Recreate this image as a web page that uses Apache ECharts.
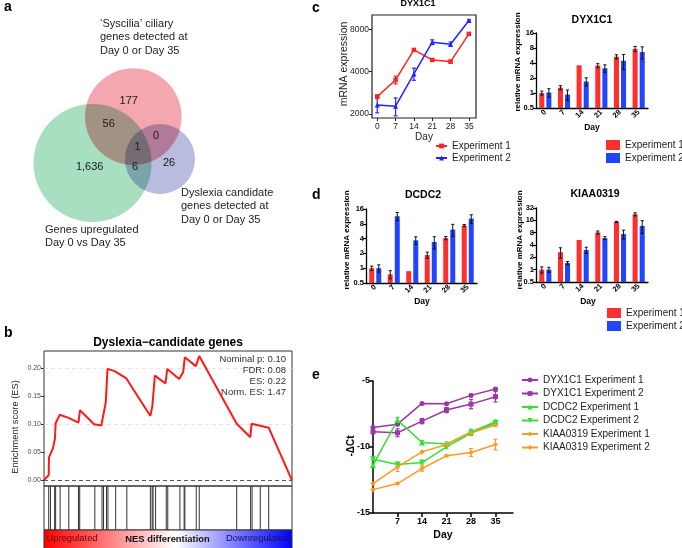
<!DOCTYPE html>
<html><head><meta charset="utf-8">
<script src="https://cdn.jsdelivr.net/npm/echarts@6.0.0/dist/echarts.min.js"></script>
<style>html,body{margin:0;padding:0;background:#fff}#chart{width:682px;height:548px}</style>
</head><body><div id="chart"></div>
<script>
// ================= DATA =================
// (a) Venn
const vennSetLabels = [
  ["\u2018Syscilia\u2019 ciliary", "genes detected at", "Day 0 or Day 35"],
  ["Genes upregulated", "Day 0 vs Day 35"],
  ["Dyslexia candidate", "genes detected at", "Day 0 or Day 35"]
];
const vennRegionNames = ["Syscilia only", "Upregulated only", "Dyslexia only", "Syscilia+Upregulated", "Syscilia+Dyslexia", "Upregulated+Dyslexia", "All three"];
const vennRegionCounts = [177, 1636, 26, 56, 0, 6, 1];

// (b) GSEA
const esRank  = [0,19,20,36,44,47,63,97,139,145,202,231,249,256,285,332,429,437,447,490,497,545,561,568,612,626,777,832,837,906,1000];
const esScore = [0,0.0095,0.041,0.057,0.074,0.102,0.117,0.112,0.103,0.125,0.100,0.098,0.139,0.199,0.195,0.182,0.115,0.133,0.187,0.173,0.199,0.181,0.193,0.220,0.204,0.222,0.101,0.077,0.101,0.094,0];
const hitRanks = [19,26,43,47,65,100,139,144,205,234,240,252,258,289,334,429,436,440,450,493,499,548,565,568,614,626,777,833,839,872,906];
const esTickValues = [0, 0.05, 0.10, 0.15, 0.20];
const gseaTitle = "Dyslexia\u2212candidate genes";
const gseaStats = ["Nominal p: 0.10", "FDR: 0.08", "ES: 0.22", "Norm. ES: 1.47"];

// (c) DYX1C1 mRNA (line)
const days = [0, 7, 14, 21, 28, 35];
const mrnaTicks = [2000, 4000, 8000];
const dyxMrnaExp1    = [2656, 3491, 5708, 4845, 4712, 7418];
const dyxMrnaExp1Err = [80, 220, 90, 80, 110, 90];
const dyxMrnaExp2    = [2318, 2272, 3852, 6476, 6268, 9228];
const dyxMrnaExp2Err = [280, 330, 380, 250, 220, 120];

// (c,d) relative mRNA expression (bars)
const dyxRelExp1    = [1.0, 1.28, 3.6, 3.55, 5.35, 7.7];
const dyxRelExp1Err = [0.09, 0.12, 0, 0.33, 0.5, 0.9];
const dyxRelExp2    = [1.02, 0.93, 1.7, 3.14, 4.45, 6.63];
const dyxRelExp2Err = [0.2, 0.22, 0.32, 0.53, 1.5, 1.8];
const dcdcRelExp1    = [1.0, 0.75, 0.87, 1.85, 4.1, 7.4];
const dcdcRelExp1Err = [0.1, 0.14, 0, 0.27, 0.3, 0.35];
const dcdcRelExp2    = [1.0, 11.4, 3.69, 3.41, 6.1, 10.2];
const dcdcRelExp2Err = [0.17, 2.2, 0.65, 0.95, 1.7, 2.0];
const kiaaRelExp1    = [1.0, 2.67, 5.3, 8.1, 14.7, 22.5];
const kiaaRelExp1Err = [0.17, 0.75, 0, 0.7, 0.4, 2.0];
const kiaaRelExp2    = [1.0, 1.45, 3.03, 5.9, 7.4, 11.7];
const kiaaRelExp2Err = [0.14, 0.13, 0.5, 0.5, 1.8, 4.0];

// (e) -dCt
const eTickDays = [7, 14, 21, 28, 35];
const dyxDctExp1  = [-8.52, -8.27, -6.70, -6.72, -6.09, -5.61];
const dyxDctExp1Err = [0.08, 0.1, 0.05, 0.05, 0.1, 0.1];
const dyxDctExp2  = [-8.85, -8.92, -8.04, -7.20, -6.75, -6.19];
const dyxDctExp2Err = [0.1, 0.3, 0.2, 0.2, 0.35, 0.4];
const dcdcDctExp1 = [-11.38, -7.96, -9.66, -9.78, -8.85, -8.09];
const dcdcDctExp1Err = [0.1, 0.2, 0.15, 0.15, 0.2, 0.1];
const dcdcDctExp2 = [-10.92, -11.33, -11.18, -9.99, -8.97, -8.16];
const dcdcDctExp2Err = [0.1, 0.15, 0.1, 0.1, 0.15, 0.1];
const kiaaDctExp1 = [-12.77, -11.51, -10.37, -9.81, -8.92, -8.34];
const kiaaDctExp1Err = [0.05, 0.35, 0.05, 0.1, 0.1, 0.1];
const kiaaDctExp2 = [-13.23, -12.77, -11.63, -10.67, -10.42, -9.81];
const kiaaDctExp2Err = [0.05, 0.05, 0.2, 0.05, 0.3, 0.4];

// ================= LAYOUT / STYLE =================
const FONT = 'Liberation Sans, Arial, Helvetica, sans-serif';
const vennCircles = [
  { cx: 92.5, cy: 163, r: 59, fill: [169, 223, 193] },     // upregulated (green)
  { cx: 133.3, cy: 116.6, r: 48.3, fill: [244, 167, 174] }, // syscilia (red)
  { cx: 160, cy: 159, r: 35, fill: [185, 187, 223] }        // dyslexia (blue)
];
const vennCountPos = [[128.7,101.3],[89.7,166.7],[169,163],[108.7,124],[156,136],[135,166.7],[137.5,147]];
const vennLabelPos = [[100, 24], [45, 230], [181, 193]];

const RED = '#ff2f2f', BLUE = '#1f45ff';
const LRED = '#ff2222', LBLUE = '#2323ff';
const PURPLE = '#9c35a8', GREEN = '#33e033', ORANGE = '#ff9a22';
const T = v => Math.log2(v);
const ident = v => v;
const fmtPow = v => { const x = Math.pow(2, v); return x < 1 ? String(+x.toFixed(2)) : String(Math.round(x)); };
const rgb = a => 'rgb(' + a.map(Math.round).join(',') + ')';
const mul = function () { const args = Array.from(arguments); return [0, 1, 2].map(k => args.reduce((acc, c) => acc * c[k] / 255, 255)); };

function txt(text, x, y, size, opts) {
  opts = opts || {};
  const font = (opts.bold ? 'bold ' : '') + size + 'px ' + FONT;
  const el = { type: 'text', x: x, y: y, silent: true, z: 50,
    style: { text: text, font: font, fill: opts.color || '#111',
      align: opts.align || 'center', verticalAlign: 'middle',
      textAlign: opts.align || 'center', textVerticalAlign: 'middle' } };
  if (opts.rotate) el.rotation = opts.rotate;
  return el;
}

function errorBars(tf, color, capHalf, lw, logScale) {
  return function (params, api) {
    const x = api.value(0), v = api.value(1), e = api.value(2);
    if (!e) return null;
    const lowV = logScale ? Math.max(v - e, 1e-6) : v - e;
    const hi = api.coord([x, tf(v + e)]);
    const lo = api.coord([x, tf(lowV)]);
    const st = { stroke: color, lineWidth: lw };
    return { type: 'group', children: [
      { type: 'line', shape: { x1: hi[0], y1: hi[1], x2: lo[0], y2: lo[1] }, style: st },
      { type: 'line', shape: { x1: hi[0] - capHalf, y1: hi[1], x2: hi[0] + capHalf, y2: hi[1] }, style: st },
      { type: 'line', shape: { x1: lo[0] - capHalf, y1: lo[1], x2: lo[0] + capHalf, y2: lo[1] }, style: st }
    ]};
  };
}

function groupedBars(sign, color, yMin) {
  return function (params, api) {
    const i = api.value(0), v = api.value(1), e = api.value(2);
    const band = api.size([1, 0])[0];
    const off = sign * band * 0.19, w = band * 0.27;
    const top = api.coord([i, T(v)]);
    const base = api.coord([i, yMin]);
    const cx = top[0] + off;
    const children = [{ type: 'rect', shape: { x: cx - w / 2, y: top[1], width: w, height: base[1] - top[1] }, style: { fill: color } }];
    if (e > 0) {
      const hi = api.coord([i, T(v + e)])[1], lo = api.coord([i, T(Math.max(v - e, 0.01))])[1];
      const st = { stroke: '#111', lineWidth: 1 };
      children.push({ type: 'line', shape: { x1: cx, y1: hi, x2: cx, y2: lo }, style: st });
      children.push({ type: 'line', shape: { x1: cx - 1.6, y1: hi, x2: cx + 1.6, y2: hi }, style: st });
      children.push({ type: 'line', shape: { x1: cx - 1.6, y1: lo, x2: cx + 1.6, y2: lo }, style: st });
    }
    return { type: 'group', children: children };
  };
}

const barX = g => ({ gridIndex: g, type: 'category', data: days.map(String), boundaryGap: true,
  axisLine: { onZero: false, lineStyle: { color: '#000', width: 1.3 } }, axisTick: { show: false },
  axisLabel: { rotate: 45, fontSize: 7.5, fontWeight: 'bold', color: '#000', margin: 3, interval: 0, fontFamily: FONT } });
const barY = (g, maxExp) => ({ gridIndex: g, type: 'value', min: -1, max: maxExp, interval: 1,
  axisLine: { show: true, onZero: false, lineStyle: { color: '#000', width: 1.3 } },
  axisTick: { show: true, length: 3, lineStyle: { color: '#000', width: 1.2 } },
  axisLabel: { formatter: fmtPow, fontSize: 7.5, fontWeight: 'bold', color: '#000', margin: 2, fontFamily: FONT },
  splitLine: { show: false } });

function barSeries(name, g, vals, errs, sign, color) {
  return { type: 'custom', name: name, xAxisIndex: g, yAxisIndex: g, itemStyle: { color: color },
    data: vals.map((v, i) => [i, v, errs[i]]), renderItem: groupedBars(sign, color, -1), z: 3 };
}
function lineSeries(name, g, vals, tf, color, symbol, size, extra) {
  return Object.assign({ type: 'line', name: name, xAxisIndex: g, yAxisIndex: g,
    data: days.map((d, i) => [d, tf(vals[i])]), symbol: symbol, symbolSize: size,
    color: color, lineStyle: { color: color, width: 1.5 }, itemStyle: { color: color }, z: 4 }, extra || {});
}
function errSeries(g, vals, errs, tf, color, cap, logScale) {
  return { type: 'custom', xAxisIndex: g, yAxisIndex: g, silent: true, z: 3,
    data: days.map((d, i) => [d, vals[i], errs[i]]), renderItem: errorBars(tf, color, cap, 1.2, logScale) };
}

// ================= TEXT =================
const graphics = [];
[['a', 4, 7], ['b', 4, 333], ['c', 312, 8], ['d', 312, 195], ['e', 312, 375]].forEach(p => graphics.push(txt(p[0], p[1], p[2], 14, { bold: true, align: 'left', color: '#000' })));
vennSetLabels.forEach((lines, k) => lines.forEach((l, j) => graphics.push(txt(l, vennLabelPos[k][0], vennLabelPos[k][1] + j * 13.3, 11, { align: 'left', color: '#222' }))));
graphics.push(txt(gseaTitle, 168, 343, 12, { bold: true, color: '#000' }));
graphics.push(txt('Enrichment score (ES)', 15, 427, 9.3, { rotate: Math.PI / 2, color: '#222' }));
gseaStats.forEach((s, j) => graphics.push(txt(s, 286, 359 + j * 11, 9.5, { align: 'right', color: '#333' })));
graphics.push({ type: 'rect', shape: { x: 44, y: 530, width: 248, height: 19 }, silent: true, z: 10,
  style: { fill: new echarts.graphic.LinearGradient(0, 0, 1, 0, [
    { offset: 0, color: '#ff0000' }, { offset: 0.53, color: '#ffffff' }, { offset: 1, color: '#0000ff' }]), stroke: '#333', lineWidth: 1 } });
graphics.push(txt('Upregulated', 46.5, 538.5, 9.4, { align: 'left', color: '#6a0000' }));
graphics.push(txt('NES differentiation', 167.5, 539, 9.4, { bold: true, color: '#111' }));
graphics.push(txt('Downregulated', 289, 538.5, 9.4, { align: 'right', color: '#10105a' }));
graphics.push(txt('DYX1C1', 418, 4, 9, { bold: true, color: '#000' }));
graphics.push(txt('mRNA expression', 344, 64, 10.5, { rotate: Math.PI / 2, color: '#222' }));
graphics.push(txt('Day', 424, 137, 10, { color: '#222' }));
graphics.push(txt('DYX1C1', 592, 20, 10.5, { bold: true, color: '#000' }));
graphics.push(txt('relative mRNA expression', 518, 62, 8, { bold: true, rotate: Math.PI / 2, color: '#000' }));
graphics.push(txt('Day', 592, 128, 8.5, { bold: true, color: '#000' }));
graphics.push(txt('DCDC2', 423, 195, 10.5, { bold: true, color: '#000' }));
graphics.push(txt('relative mRNA expression', 347, 240, 8, { bold: true, rotate: Math.PI / 2, color: '#000' }));
graphics.push(txt('Day', 422, 302, 8.5, { bold: true, color: '#000' }));
graphics.push(txt('KIAA0319', 595, 194, 10.5, { bold: true, color: '#000' }));
graphics.push(txt('relative mRNA expression', 520, 240, 8, { bold: true, rotate: Math.PI / 2, color: '#000' }));
graphics.push(txt('Day', 588, 302, 8.5, { bold: true, color: '#000' }));
graphics.push(txt('-\u0394Ct', 351, 446, 10, { bold: true, rotate: Math.PI / 2, color: '#000' }));
graphics.push(txt('Day', 443, 535, 10.5, { bold: true, color: '#000' }));

const nameFmt = n => n.indexOf('|') >= 0 ? n.split('|')[1] : n;

// ================= OPTION =================
const option = {
  animation: false,
  backgroundColor: '#ffffff',
  textStyle: { fontFamily: FONT },
  grid: [
    { left: 0, top: 0, width: 300, height: 290, outerBoundsMode: 'none' },
    { left: 44, top: 351, width: 248, height: 135, show: true, borderColor: '#333', borderWidth: 1, backgroundColor: 'transparent', outerBoundsMode: 'none' },
    { left: 44, top: 486, width: 248, height: 44, show: true, borderColor: '#333', borderWidth: 1, backgroundColor: 'transparent', outerBoundsMode: 'none' },
    { left: 372, top: 15, width: 104, height: 103, show: true, borderColor: '#222', borderWidth: 1.2, backgroundColor: 'transparent', outerBoundsMode: 'none' },
    { left: 536, top: 33, width: 112, height: 75, outerBoundsMode: 'none' },
    { left: 366, top: 209, width: 111, height: 74, outerBoundsMode: 'none' },
    { left: 536, top: 208, width: 112, height: 74, outerBoundsMode: 'none' },
    { left: 373, top: 381, width: 140, height: 132, outerBoundsMode: 'none' }
  ],
  xAxis: [
    { gridIndex: 0, type: 'value', min: 0, max: 300, show: false },
    { gridIndex: 1, type: 'value', min: 0, max: 1000, show: false },
    { gridIndex: 2, type: 'value', min: 0, max: 1000, show: false },
    { gridIndex: 3, type: 'value', min: -2, max: 37.7, axisLine: { show: false, onZero: false }, splitLine: { show: false },
      axisTick: { show: true, customValues: days, length: 3, lineStyle: { color: '#222' } },
      axisLabel: { customValues: days, fontSize: 8.5, color: '#222', margin: 4, fontFamily: FONT } },
    barX(4), barX(5), barX(6),
    { gridIndex: 7, type: 'value', min: 0, max: 40, splitLine: { show: false },
      axisLine: { show: true, onZero: false, lineStyle: { color: '#000', width: 1.5 } },
      axisTick: { show: true, customValues: eTickDays, length: 4, lineStyle: { color: '#000', width: 1.5 } },
      axisLabel: { customValues: eTickDays, fontWeight: 'bold', fontSize: 9, color: '#000', margin: 4, fontFamily: FONT } }
  ],
  yAxis: [
    { gridIndex: 0, type: 'value', min: 0, max: 290, inverse: true, show: false },
    { gridIndex: 1, type: 'value', min: -0.0102, max: 0.231, axisLine: { show: false }, splitLine: { show: false },
      axisTick: { show: true, customValues: esTickValues, length: 3, lineStyle: { color: '#333' } },
      axisLabel: { customValues: esTickValues, formatter: v => v.toFixed(2), fontSize: 7, color: '#4d4d4d', margin: 3, fontFamily: FONT } },
    { gridIndex: 2, type: 'value', min: 0, max: 1, show: false },
    { gridIndex: 3, type: 'value', min: T(1874), max: T(10100), axisLine: { show: false, onZero: false }, splitLine: { show: false },
      axisTick: { show: true, customValues: mrnaTicks.map(T), length: 3, lineStyle: { color: '#222' } },
      axisLabel: { customValues: mrnaTicks.map(T), formatter: v => String(Math.round(Math.pow(2, v))), fontSize: 8.5, color: '#222', margin: 3, fontFamily: FONT } },
    barY(4, 4), barY(5, 4), barY(6, 5),
    { gridIndex: 7, type: 'value', min: -15, max: -5, interval: 5, splitLine: { show: false },
      axisLine: { show: true, onZero: false, lineStyle: { color: '#000', width: 1.5 } },
      axisTick: { show: true, length: 4, lineStyle: { color: '#000', width: 1.5 } },
      axisLabel: { fontWeight: 'bold', fontSize: 9, color: '#000', margin: 3, fontFamily: FONT } }
  ],
  legend: [
    { left: 435, top: 140.5, orient: 'vertical', padding: 0, itemWidth: 11, itemHeight: 6, itemGap: 1, selectedMode: false,
      formatter: nameFmt, textStyle: { fontSize: 10, color: '#222', lineHeight: 11, fontFamily: FONT },
      data: ['DYX1C1 line|Experiment 1', 'DYX1C1 line|Experiment 2'] },
    { left: 606, top: 139.5, orient: 'vertical', padding: 0, itemWidth: 14, itemHeight: 10, itemGap: 2, icon: 'rect', selectedMode: false,
      formatter: nameFmt, textStyle: { fontSize: 10, color: '#222', lineHeight: 11, fontFamily: FONT },
      data: ['DYX1C1 bar|Experiment 1', 'DYX1C1 bar|Experiment 2'] },
    { left: 607, top: 307.5, orient: 'vertical', padding: 0, itemWidth: 14, itemHeight: 10, itemGap: 2, icon: 'rect', selectedMode: false,
      formatter: nameFmt, textStyle: { fontSize: 10, color: '#222', lineHeight: 11, fontFamily: FONT },
      data: ['KIAA0319 bar|Experiment 1', 'KIAA0319 bar|Experiment 2'] },
    { left: 521, top: 374.5, orient: 'vertical', padding: 0, itemWidth: 16, itemHeight: 6, itemGap: 2.5, selectedMode: false,
      textStyle: { fontSize: 10, color: '#222', lineHeight: 11, fontFamily: FONT },
      data: ['DYX1C1 Experiment 1', 'DYX1C1 Experiment 2', 'DCDC2 Experiment 1', 'DCDC2 Experiment 2', 'KIAA0319 Experiment 1', 'KIAA0319 Experiment 2'] }
  ],
  series: [
    // (a) Venn circles with multiplied overlap colours (clip paths)
    { type: 'custom', name: 'venn', xAxisIndex: 0, yAxisIndex: 0, silent: true, z: 2,
      data: [[0]],
      renderItem: (params, api) => {
        const C = vennCircles.map(c => { const p = api.coord([c.cx, c.cy]); return { cx: p[0], cy: p[1], r: api.size([c.r, 0])[0], fill: c.fill }; });
        const G = C[0], R = C[1], B = C[2];
        const circ = (c, fill) => ({ type: 'circle', shape: { cx: c.cx, cy: c.cy, r: c.r }, style: { fill: rgb(fill) } });
        const clip = c => ({ type: 'circle', shape: { cx: c.cx, cy: c.cy, r: c.r } });
        return { type: 'group', children: [
          circ(G, G.fill), circ(R, R.fill), circ(B, B.fill),
          Object.assign(circ(R, mul(R.fill, G.fill)), { clipPath: clip(G) }),
          Object.assign(circ(B, mul(B.fill, G.fill)), { clipPath: clip(G) }),
          Object.assign(circ(B, mul(B.fill, R.fill)), { clipPath: clip(R) }),
          { type: 'group', clipPath: clip(G), children: [Object.assign(circ(B, mul(B.fill, R.fill, G.fill)), { clipPath: clip(R) })] }
        ] };
      } },
    { type: 'custom', name: 'venn counts', xAxisIndex: 0, yAxisIndex: 0, silent: true, z: 5,
      data: vennRegionCounts.map((n, i) => [i, n]),
      renderItem: (params, api) => {
        const p = api.coord(vennCountPos[params.dataIndex]);
        const s = Number(api.value(1)).toLocaleString('en-US');
        return { type: 'text', x: p[0], y: p[1], style: { text: s, font: '11px ' + FONT, fill: '#1a1a1a',
          align: 'center', verticalAlign: 'middle', textAlign: 'center', textVerticalAlign: 'middle' } };
      } },
    // (b) ES curve
    { type: 'line', name: 'ES', xAxisIndex: 1, yAxisIndex: 1, symbol: 'none', z: 4,
      data: esRank.map((r, i) => [r, esScore[i]]),
      lineStyle: { color: '#ff1a1a', width: 2 }, itemStyle: { color: '#ff1a1a' },
      markLine: { silent: true, symbol: 'none', label: { show: false }, z: 1,
        data: [
          { yAxis: 0, lineStyle: { color: '#555', type: [4, 3], width: 1 } },
          { yAxis: 0.1, lineStyle: { color: '#e6e6e6', type: [4, 3], width: 1 } },
          { yAxis: 0.2, lineStyle: { color: '#e6e6e6', type: [4, 3], width: 1 } }
        ] } },
    { type: 'custom', name: 'hits', xAxisIndex: 2, yAxisIndex: 2, silent: true,
      data: hitRanks.map(r => [r]),
      renderItem: (params, api) => {
        const a = api.coord([api.value(0), 0]), b = api.coord([api.value(0), 1]);
        return { type: 'line', shape: { x1: a[0], y1: a[1], x2: b[0], y2: b[1] }, style: { stroke: '#333', lineWidth: 1 } };
      } },
    // (c) line chart
    lineSeries('DYX1C1 line|Experiment 1', 3, dyxMrnaExp1, T, LRED, 'rect', 4.5),
    lineSeries('DYX1C1 line|Experiment 2', 3, dyxMrnaExp2, T, LBLUE, 'triangle', 5),
    errSeries(3, dyxMrnaExp1, dyxMrnaExp1Err, T, LRED, 2, true),
    errSeries(3, dyxMrnaExp2, dyxMrnaExp2Err, T, LBLUE, 2, true),
    // (c,d) bars
    barSeries('DYX1C1 bar|Experiment 1', 4, dyxRelExp1, dyxRelExp1Err, -1, RED),
    barSeries('DYX1C1 bar|Experiment 2', 4, dyxRelExp2, dyxRelExp2Err, 1, BLUE),
    barSeries('DCDC2 bar|Experiment 1', 5, dcdcRelExp1, dcdcRelExp1Err, -1, RED),
    barSeries('DCDC2 bar|Experiment 2', 5, dcdcRelExp2, dcdcRelExp2Err, 1, BLUE),
    barSeries('KIAA0319 bar|Experiment 1', 6, kiaaRelExp1, kiaaRelExp1Err, -1, RED),
    barSeries('KIAA0319 bar|Experiment 2', 6, kiaaRelExp2, kiaaRelExp2Err, 1, BLUE),
    // (e)
    lineSeries('DYX1C1 Experiment 1', 7, dyxDctExp1, ident, PURPLE, 'circle', 5),
    lineSeries('DYX1C1 Experiment 2', 7, dyxDctExp2, ident, PURPLE, 'rect', 5),
    lineSeries('DCDC2 Experiment 1', 7, dcdcDctExp1, ident, GREEN, 'triangle', 6),
    lineSeries('DCDC2 Experiment 2', 7, dcdcDctExp2, ident, GREEN, 'triangle', 6, { symbolRotate: 180 }),
    lineSeries('KIAA0319 Experiment 1', 7, kiaaDctExp1, ident, ORANGE, 'diamond', 5),
    lineSeries('KIAA0319 Experiment 2', 7, kiaaDctExp2, ident, ORANGE, 'diamond', 5),
    errSeries(7, dyxDctExp1, dyxDctExp1Err, ident, PURPLE, 2, false),
    errSeries(7, dyxDctExp2, dyxDctExp2Err, ident, PURPLE, 2, false),
    errSeries(7, dcdcDctExp1, dcdcDctExp1Err, ident, GREEN, 2, false),
    errSeries(7, dcdcDctExp2, dcdcDctExp2Err, ident, GREEN, 2, false),
    errSeries(7, kiaaDctExp1, kiaaDctExp1Err, ident, ORANGE, 2, false),
    errSeries(7, kiaaDctExp2, kiaaDctExp2Err, ident, ORANGE, 2, false)
  ],
  graphic: { elements: graphics }
};

const chart = echarts.init(document.getElementById('chart'), null, { renderer: 'canvas' });
chart.setOption(option);
</script>
</body></html>
